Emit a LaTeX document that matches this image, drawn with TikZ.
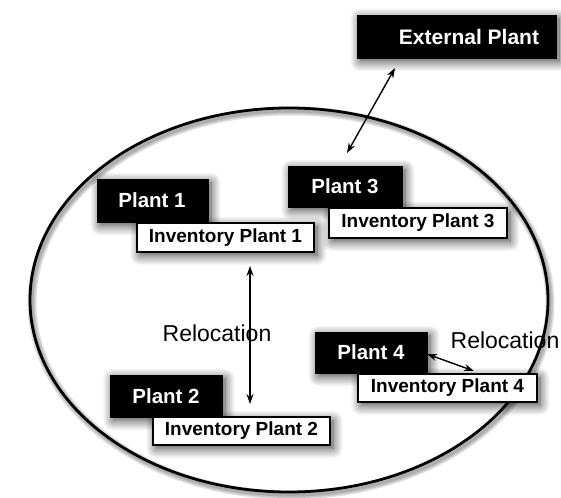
\documentclass[tikz,border=0pt]{standalone}
\usepackage{fontspec}
\setmainfont{Liberation Sans}
\usetikzlibrary{shadows.blur,arrows.meta}
\tikzset{
  shade/.style={blur shadow={shadow xshift=3pt,shadow yshift=-3.5pt,shadow blur radius=10pt,shadow opacity=75,shadow blur steps=12}},
  plantbox/.style={fill=black,draw=black,shade},
  invbox/.style={fill=white,draw=black,line width=1.2pt,shade},
  plantlbl/.style={text=white,font=\fontsize{20.5}{20.5}\selectfont\bfseries},
  extlbl/.style={text=white,font=\fontsize{21}{21}\selectfont\bfseries},
  invlbl/.style={text=black,font=\fontsize{19}{19}\selectfont\bfseries},
  rellbl/.style={font=\fontsize{23}{23}\selectfont},
  link/.style={line width=1.4pt,{Stealth[length=10pt,width=7pt]}-{Stealth[length=10pt,width=7pt]}},
  rimhaze/.style={draw=black,line width=#1,opacity=0.12}
}
\begin{document}
\begin{tikzpicture}[x=1pt,y=-1pt]
\useasboundingbox (0,0) rectangle (561,497);
% soft haze under the site boundary
\foreach \w in {3,6,9}
  \draw[rimhaze=\w pt] (291,303) ellipse [x radius=259,y radius=192];
% the site boundary
\draw[line width=2.8pt] (289,300) ellipse [x radius=259,y radius=192];
% external plant
\draw[plantbox] (357,15) rectangle (556,58);
\node[extlbl] (ext) at (469,37) {External Plant};
% plants with their inventories
\draw[plantbox] (97,179) rectangle (208,222);
\node[plantlbl] (p1) at (152,200) {Plant 1};
\draw[invbox] (137,223) rectangle (314,252);
\node[invlbl] (i1) at (225.5,238) {Inventory Plant 1};

\draw[plantbox] (288,166) rectangle (402,207);
\node[plantlbl] (p3) at (345,186) {Plant 3};
\draw[invbox] (329,208) rectangle (507,238);
\node[invlbl] (i3) at (418,223) {Inventory Plant 3};

\draw[plantbox] (315,332) rectangle (427,373);
\node[plantlbl] (p4) at (371,352) {Plant 4};
\draw[invbox] (358,374) rectangle (537,402);
\node[invlbl] (i4) at (447.5,388) {Inventory Plant 4};

\draw[plantbox] (110,375) rectangle (222,417);
\node[plantlbl] (p2) at (166,396) {Plant 2};
\draw[invbox] (153,417) rectangle (330,445);
\node[invlbl] (i2) at (241.5,431) {Inventory Plant 2};

% relocation labels
\node[rellbl] (r12) at (217,333) {Relocation};
\node[rellbl] (r4) at (505,340) {Relocation};

% connectors
\coordinate (e1) at (395,68);
\coordinate (e2) at (347,153);
\draw[link] (e1) -- (e2);
\coordinate (v1) at (250,266);
\coordinate (v2) at (250,404);
\draw[link] (v1) -- (v2);
\coordinate (h1) at (427,354);
\coordinate (h2) at (474,371);
\draw[link] (h1) -- (h2);
\end{tikzpicture}
\end{document}
